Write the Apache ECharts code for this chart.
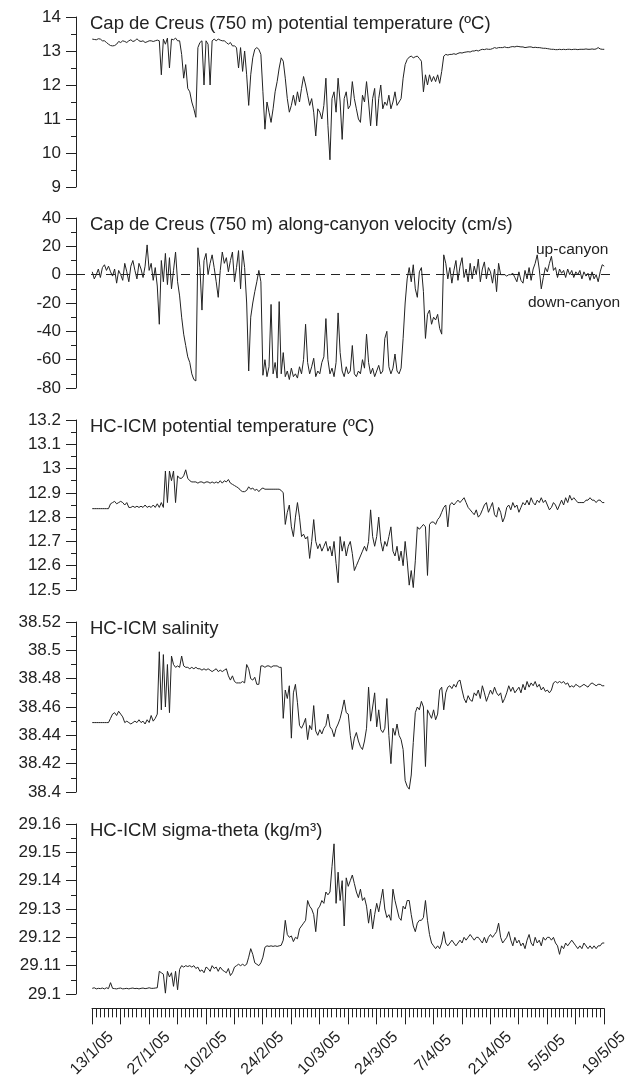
<!DOCTYPE html>
<html lang="en">
<head>
  <meta charset="UTF-8">
  <title>Cap de Creus / HC-ICM time series</title>
  <script src="https://cdn.jsdelivr.net/npm/echarts@6/dist/echarts.min.js"></script>
  <style>
    * { margin: 0; padding: 0; box-sizing: border-box; }
    body { background: #fff; }
    #chart { width: 642px; height: 1080px; }
  </style>
</head>
<body>
  <div id="chart"></div>
  <script>
    // one sample every half day, starting 13/1/05 (day 0) up to 19/5/05 (day 126)
    const STEP = 0.5;
    const dateLabels = ['13/1/05', '27/1/05', '10/2/05', '24/2/05', '10/3/05', '24/3/05', '7/4/05', '21/4/05', '5/5/05', '19/5/05'];

    // Cap de Creus (750 m) potential temperature (ºC)
    const tempCC = [
      13.35, 13.34, 13.33, 13.36, 13.35, 13.3, 13.3, 13.25, 13.2, 13.16,
      13.15, 13.16, 13.2, 13.28, 13.25, 13.3, 13.28, 13.25, 13.3, 13.33,
      13.28, 13.3, 13.36, 13.3, 13.28, 13.3, 13.25, 13.27, 13.3, 13.3,
      13.28, 13.3, 13.32, 13.3, 12.3, 13.35, 13.2, 13.38, 12.5, 13.35,
      13.33, 13.38, 13.3, 13.3, 12.9, 12.2, 12.6, 11.9, 11.8, 11.5,
      11.3, 11.05, 13.1, 13.25, 13.3, 12.0, 13.3, 13.2, 12.0, 13.3,
      13.35, 13.3, 13.35, 13.32, 13.3, 13.3, 13.25, 13.2, 13.25, 13.15,
      13.15, 13.1, 12.5, 13.1, 12.4, 13.0, 12.3, 11.4, 12.3, 12.8,
      13.05, 13.1, 13.05, 12.9, 11.8, 10.7, 11.5, 11.2, 10.9, 11.3,
      11.8, 12.1, 12.5, 12.8, 12.7, 12.2, 11.6, 11.2, 11.4, 11.7,
      11.4, 11.8, 11.5, 11.9, 12.25, 12.0, 11.7, 11.4, 11.6, 11.2,
      10.5, 11.3, 11.2, 11.0, 11.4, 12.2, 10.8, 9.8, 11.6, 11.8,
      11.2, 12.2, 11.5, 10.4, 11.6, 11.8, 11.3, 11.4, 12.1, 11.6,
      11.3, 11.0, 10.9, 11.7, 11.5, 12.1, 11.5, 10.8, 11.6, 11.9,
      10.8, 11.6, 12.0, 11.3, 11.5, 11.4, 11.7, 11.3, 11.5, 11.8,
      11.4, 11.5, 11.6, 12.2, 12.6, 12.75, 12.82, 12.85, 12.8, 12.83,
      12.85, 12.78, 12.7, 11.8, 12.3, 12.0, 12.3, 12.1, 12.25, 12.1,
      12.3, 12.05, 12.4, 12.85, 12.9, 12.88, 12.9, 12.9, 12.92, 12.9,
      12.93, 12.95, 12.94, 12.96, 12.97, 12.98, 12.97, 13.0, 13.0, 13.02,
      13.0, 13.03, 13.05, 13.04, 13.06, 13.05, 13.05, 13.07, 13.1, 13.08,
      13.1, 13.1, 13.1, 13.12, 13.1, 13.1, 13.12, 13.13, 13.12, 13.14,
      13.13, 13.12, 13.12, 13.1, 13.11, 13.12, 13.12, 13.1, 13.11, 13.1,
      13.1, 13.09, 13.08, 13.08, 13.07, 13.06, 13.05, 13.05, 13.04, 13.04,
      13.05, 13.04, 13.05, 13.04, 13.05, 13.05, 13.04, 13.05, 13.05, 13.04,
      13.05, 13.05, 13.05, 13.06, 13.05, 13.05, 13.06, 13.05, 13.06, 13.1,
      13.06, 13.05, 13.05
    ];

    // Cap de Creus (750 m) along-canyon velocity (cm/s)
    const velCC = [
      2, -3, 0, 4, -2, 5, 7, 3, 6, 2,
      -1, 4, -6, 3, 0, -4, 8, 2, -5, 6,
      10, 3, -3, 8, 4, -2, 6, 21, 3, 8,
      -4, 5, -8, -35, 10, -5, 15, -7, 12, -10,
      3, 16, -5, -15, -30, -42, -50, -58, -62, -70,
      -74, -75, 19, 5, -25, 10, 15, 0, 8, 14,
      5, -5, -16, 3, 16, 8, 12, 2, 10, 16,
      -5, 5, 17, -10, 17, 5, -20, -68, -30, -20,
      -12, -5, 3, -5, -71, -60, -72, -65, -21, -70,
      -62, -73, -19, -70, -55, -72, -68, -74, -66, -72,
      -70, -73, -65, -70, -60, -35, -62, -70, -65, -59,
      -72, -68, -70, -62, -58, -31, -60, -70, -66, -72,
      -62, -27, -55, -68, -72, -65, -70, -68, -50, -70,
      -72, -68, -70, -60, -66, -42, -62, -70, -66, -72,
      -68, -64, -70, -68, -45, -40, -65, -70, -66, -56,
      -68, -70, -66, -45, -20, -3, 5, -5, 7, -10,
      -16, 2, 5, -12, -45, -28, -25, -35, -30, -32,
      -28, -38, -42, 14, 8, -3, 5, -6, 3, 10,
      -4, 6, 12, -2, 4, -5, 8, -3, 6, 0,
      11, -5, 4, 9, -3, 5, 2, -6, 4, -12,
      8, 0, 0, 0, -1, 0, 0, 1, -2, -5,
      2, -4, -6, 3, -3, 5, -4, 4, 8, 14,
      4, -10, -2, 5, 2, 8, 13, 3, 5, -2,
      4, 1, 3, -2, 4, 0, 3, -2, 2, 0,
      3, -3, 2, -1, 1, -4, 2, -3, 0, -5,
      2, 7, 6
    ];

    // HC-ICM potential temperature (ºC)
    const tempHC = [
      12.835, 12.835, 12.835, 12.835, 12.835, 12.835, 12.835, 12.835, 12.835, 12.855,
      12.86, 12.865, 12.855, 12.86, 12.865, 12.86, 12.85, 12.86, 12.84, 12.84,
      12.845, 12.84, 12.845, 12.84, 12.845, 12.84, 12.85, 12.84, 12.845, 12.84,
      12.85, 12.84, 12.855, 12.84, 12.86, 12.84, 12.99, 12.86, 12.99, 12.95,
      12.99, 12.86, 12.97, 12.96, 12.96, 12.97, 12.995, 12.96, 12.95, 12.945,
      12.945, 12.945, 12.94, 12.945, 12.945, 12.94, 12.945, 12.945, 12.94, 12.945,
      12.94, 12.945, 12.94, 12.95, 12.94, 12.95, 12.945, 12.955, 12.94, 12.935,
      12.93, 12.925, 12.92, 12.91, 12.905, 12.905, 12.91, 12.925, 12.915, 12.92,
      12.91, 12.915, 12.905, 12.915, 12.92, 12.915, 12.915, 12.915, 12.915, 12.915,
      12.915, 12.915, 12.915, 12.91, 12.9, 12.77, 12.82, 12.85, 12.76, 12.72,
      12.8, 12.86, 12.8, 12.72, 12.73, 12.71, 12.72, 12.63, 12.7, 12.79,
      12.7, 12.67, 12.69, 12.66, 12.68, 12.7, 12.66, 12.68, 12.64, 12.7,
      12.61, 12.53, 12.72, 12.66, 12.7, 12.64, 12.68, 12.7, 12.65, 12.58,
      12.6, 12.62, 12.64, 12.66, 12.68, 12.66, 12.7, 12.83, 12.72, 12.68,
      12.72, 12.8, 12.7, 12.66, 12.7, 12.68, 12.72, 12.76, 12.66, 12.64,
      12.68, 12.62, 12.66, 12.6, 12.7, 12.62, 12.52, 12.58, 12.51, 12.62,
      12.76, 12.75, 12.76, 12.77, 12.76, 12.56, 12.77, 12.78, 12.78, 12.77,
      12.79, 12.8, 12.82, 12.84, 12.85, 12.76, 12.85, 12.86, 12.85, 12.86,
      12.87, 12.86, 12.87, 12.88, 12.86, 12.84, 12.83, 12.82, 12.81, 12.83,
      12.8, 12.81, 12.83, 12.85, 12.86, 12.82, 12.84, 12.86, 12.81, 12.8,
      12.84, 12.82, 12.78, 12.8, 12.84, 12.85, 12.83, 12.86, 12.84, 12.85,
      12.82, 12.84, 12.86, 12.85, 12.87, 12.85, 12.88, 12.86, 12.85, 12.87,
      12.86, 12.88, 12.86, 12.87, 12.85, 12.83, 12.84, 12.86, 12.85, 12.83,
      12.85, 12.87, 12.85, 12.88, 12.86, 12.89, 12.87, 12.88, 12.87, 12.86,
      12.86, 12.86, 12.86, 12.87, 12.87, 12.88, 12.87, 12.87, 12.86, 12.87,
      12.87, 12.86, 12.86
    ];

    // HC-ICM salinity
    const salHC = [
      38.449, 38.449, 38.449, 38.449, 38.449, 38.449, 38.449, 38.449, 38.449, 38.452,
      38.455, 38.456, 38.454, 38.457, 38.455, 38.453, 38.449, 38.45, 38.449, 38.448,
      38.449, 38.45, 38.449, 38.451, 38.449, 38.45, 38.448, 38.451, 38.449, 38.454,
      38.45, 38.452, 38.455, 38.499, 38.458, 38.497, 38.46, 38.49, 38.456, 38.496,
      38.49, 38.488, 38.489, 38.488, 38.496, 38.489, 38.488, 38.488, 38.487, 38.488,
      38.487, 38.488, 38.487, 38.487, 38.486, 38.487, 38.486, 38.487, 38.486, 38.485,
      38.486, 38.487, 38.485, 38.486, 38.485, 38.486, 38.487, 38.482, 38.479, 38.482,
      38.478, 38.477, 38.477, 38.477, 38.478, 38.477, 38.49, 38.487, 38.48, 38.479,
      38.481, 38.476, 38.476, 38.489, 38.489, 38.488, 38.489, 38.489, 38.488, 38.489,
      38.489, 38.489, 38.488, 38.488, 38.452, 38.472, 38.466, 38.475, 38.438, 38.47,
      38.476, 38.463, 38.447, 38.445, 38.448, 38.452, 38.437, 38.447, 38.444, 38.461,
      38.443, 38.44, 38.444, 38.441, 38.445, 38.447, 38.455, 38.446, 38.444, 38.439,
      38.445, 38.448, 38.452, 38.458, 38.465, 38.456, 38.455, 38.44, 38.43, 38.438,
      38.442, 38.436, 38.432, 38.43, 38.436, 38.445, 38.474, 38.45, 38.46, 38.47,
      38.446, 38.458, 38.444, 38.442, 38.445, 38.466, 38.44, 38.42, 38.445, 38.44,
      38.448, 38.44, 38.437, 38.43, 38.408, 38.404, 38.402, 38.412, 38.435, 38.456,
      38.46, 38.458, 38.464, 38.46, 38.418, 38.458, 38.455, 38.452, 38.458, 38.451,
      38.455, 38.472, 38.474, 38.458, 38.47, 38.474, 38.475, 38.473, 38.476, 38.474,
      38.478, 38.479, 38.472, 38.466, 38.463, 38.468, 38.465, 38.464, 38.47, 38.468,
      38.472, 38.466, 38.475, 38.47, 38.464, 38.468, 38.472, 38.469, 38.474, 38.47,
      38.468, 38.47, 38.463, 38.466, 38.47, 38.475, 38.471, 38.474, 38.47, 38.472,
      38.474, 38.47, 38.476, 38.472, 38.478, 38.474, 38.477, 38.475, 38.478, 38.474,
      38.476, 38.472, 38.474, 38.471, 38.472, 38.47, 38.472, 38.477, 38.478, 38.477,
      38.478, 38.477, 38.478, 38.476, 38.477, 38.474, 38.475, 38.474, 38.476, 38.475,
      38.474, 38.475, 38.476, 38.475, 38.474, 38.476, 38.477, 38.476, 38.475, 38.476,
      38.476, 38.475, 38.475
    ];

    // HC-ICM sigma-theta (kg/m3)
    const sigmaHC = [
      29.102, 29.1022, 29.1018, 29.102, 29.1019, 29.1021, 29.1018, 29.1022, 29.1019, 29.104,
      29.102, 29.1019, 29.1018, 29.102, 29.1021, 29.1018, 29.1019, 29.102, 29.1018, 29.102,
      29.1021, 29.1019, 29.102, 29.1018, 29.102, 29.1021, 29.1019, 29.102, 29.1022, 29.102,
      29.102, 29.1021, 29.1022, 29.108, 29.1075, 29.107, 29.1003, 29.108, 29.106, 29.1075,
      29.1027, 29.108, 29.1015, 29.1087, 29.11, 29.1095, 29.11, 29.1097, 29.11, 29.1095,
      29.11, 29.109, 29.1095, 29.108, 29.1085, 29.1075, 29.1095, 29.109, 29.108, 29.11,
      29.109, 29.1095, 29.108, 29.1095, 29.1085, 29.108, 29.1075, 29.109, 29.1065, 29.1075,
      29.1095, 29.11, 29.1105, 29.11, 29.1105, 29.11, 29.1105, 29.113, 29.116, 29.114,
      29.111, 29.1105, 29.11, 29.111, 29.113, 29.1165, 29.117, 29.1168, 29.117, 29.1168,
      29.117, 29.1168, 29.117, 29.1172, 29.119, 29.126, 29.121, 29.12, 29.1205, 29.1185,
      29.12, 29.1195, 29.123, 29.124, 29.125, 29.126, 29.133, 29.131, 29.13, 29.128,
      29.122, 29.13, 29.131, 29.133, 29.132, 29.136, 29.135, 29.136, 29.145, 29.153,
      29.132, 29.143, 29.133, 29.14, 29.124, 29.141, 29.138, 29.14, 29.142, 29.139,
      29.136, 29.134, 29.137, 29.133, 29.134, 29.131, 29.125, 29.13, 29.123, 29.128,
      29.132, 29.129, 29.133, 29.137, 29.13, 29.127, 29.128, 29.126, 29.137, 29.133,
      29.13, 29.127, 29.126, 29.131, 29.13, 29.133, 29.133, 29.128, 29.124, 29.122,
      29.125, 29.126, 29.126, 29.127, 29.133, 29.126, 29.121, 29.118, 29.117, 29.116,
      29.117, 29.116, 29.118, 29.122, 29.118, 29.117, 29.118, 29.119, 29.118, 29.117,
      29.118, 29.119, 29.118, 29.12, 29.119, 29.12, 29.121, 29.12, 29.119, 29.12,
      29.12, 29.119, 29.118, 29.12, 29.118, 29.12, 29.121, 29.12, 29.121, 29.122,
      29.125, 29.12, 29.118, 29.119, 29.12, 29.122, 29.119, 29.117, 29.12, 29.118,
      29.119, 29.117, 29.118, 29.116, 29.119, 29.121, 29.118, 29.117, 29.12, 29.118,
      29.119, 29.117, 29.12, 29.119, 29.12, 29.12, 29.119, 29.12, 29.118, 29.117,
      29.114, 29.117, 29.116, 29.118, 29.117, 29.118, 29.119, 29.118, 29.117, 29.116,
      29.117, 29.116, 29.118, 29.117, 29.116, 29.117, 29.116, 29.117, 29.116, 29.117,
      29.117, 29.118, 29.118
    ];

    const panels = [
      { title: 'Cap de Creus (750 m) potential temperature (ºC)', data: tempCC, min: 9, max: 14, interval: 1 },
      { title: 'Cap de Creus (750 m) along-canyon velocity (cm/s)', data: velCC, min: -80, max: 40, interval: 20 },
      { title: 'HC-ICM potential temperature (ºC)', data: tempHC, min: 12.5, max: 13.2, interval: 0.1 },
      { title: 'HC-ICM salinity', data: salHC, min: 38.4, max: 38.52, interval: 0.02 },
      { title: 'HC-ICM sigma-theta (kg/m³)', data: sigmaHC, min: 29.1, max: 29.16, interval: 0.01 }
    ];

    const FONT = '"Liberation Sans", Arial, sans-serif';
    const INK = '#222';
    const PANEL_TOP = [17, 218, 420, 622, 824];
    const PANEL_H = 170;

    const grid = [], xAxis = [], yAxis = [], series = [], title = [];

    panels.forEach((p, i) => {
      // 4.0635 px per day; day 0 sits 16 px right of the y axis
      grid.push({ left: 76, top: PANEL_TOP[i], width: 535, height: PANEL_H });
      xAxis.push({ gridIndex: i, type: 'value', min: -4, max: 127.66, show: false });
      yAxis.push({
        gridIndex: i, type: 'value', min: p.min, max: p.max, interval: p.interval,
        axisLine: { show: true, onZero: false, lineStyle: { color: INK, width: 1 } },
        axisTick: { show: true, length: 10, lineStyle: { color: INK } },
        minorTick: { show: true, splitNumber: 2, length: 5, lineStyle: { color: INK } },
        axisLabel: { color: INK, fontSize: 17, fontFamily: FONT, margin: 15 },
        splitLine: { show: false }
      });
      const s = {
        type: 'line', xAxisIndex: i, yAxisIndex: i,
        data: p.data.map((v, k) => [k * STEP, v]),
        showSymbol: false, symbol: 'none', animation: false,
        lineStyle: { color: INK, width: 1 }
      };
      if (i === 1) {
        s.markLine = {
          silent: true, symbol: 'none', label: { show: false },
          lineStyle: { color: INK, width: 1, type: [9, 6] },
          data: [{ yAxis: 0 }]
        };
      }
      series.push(s);
      title.push({
        text: p.title, left: 90, top: PANEL_TOP[i] - 3, padding: 0,
        textStyle: { color: INK, fontSize: 18.5, fontWeight: 'normal', fontFamily: FONT }
      });
    });

    title.push({ text: 'up-canyon', left: 536, top: 242, padding: 0, textStyle: { color: INK, fontSize: 15.5, fontWeight: 'normal', fontFamily: FONT } });
    title.push({ text: 'down-canyon', left: 528, top: 295, padding: 0, textStyle: { color: INK, fontSize: 15.5, fontWeight: 'normal', fontFamily: FONT } });

    // shared time axis underneath the panels
    grid.push({ left: 92, top: 1002, width: 512, height: 10 });
    xAxis.push({
      gridIndex: 5, type: 'value', min: 0, max: 126, interval: 7,
      axisLine: { show: true, lineStyle: { color: INK, width: 1 } },
      axisTick: { show: true, length: 16, lineStyle: { color: INK } },
      minorTick: { show: true, splitNumber: 7, length: 9, lineStyle: { color: INK } },
      splitLine: { show: false },
      axisLabel: {
        color: INK, fontSize: 16, fontFamily: FONT, rotate: 45,
        align: 'center', verticalAlign: 'middle', margin: 45,
        formatter: v => (v % 14 === 0 ? dateLabels[v / 14] : '')
      }
    });
    yAxis.push({ gridIndex: 5, type: 'value', show: false });

    const chart = echarts.init(document.getElementById('chart'));
    chart.setOption({ animation: false, title, grid, xAxis, yAxis, series });
  </script>
</body>
</html>
